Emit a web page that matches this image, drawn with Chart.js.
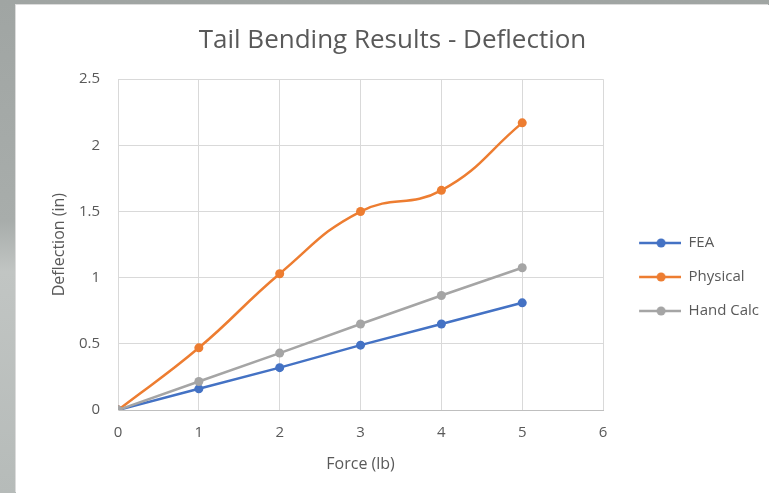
<!DOCTYPE html>
<html>
<head>
<meta charset="utf-8">
<script src="https://cdn.jsdelivr.net/npm/chart.js@4.4.1/dist/chart.umd.min.js"></script>
<style>
  html, body { margin: 0; padding: 0; }
  body {
    width: 769px; height: 493px; overflow: hidden; position: relative;
    background: linear-gradient(180deg, #a0a5a3 0%, #a8adab 45%, #c1c5c3 55%, #b6bbb9 100%);
  }
  #wrap {
    position: absolute; left: 16px; top: 5px; width: 753px; height: 488px;
    background: #ffffff; box-shadow: -1px -1px 0 #dcdcdc;
  }
</style>
</head>
<body>
<div id="wrap"><canvas id="c" width="753" height="488"></canvas></div>
<script>
// ---- data ----
const forces   = [0, 1, 2, 3, 4, 5];
const fea      = [0, 0.16, 0.32, 0.49, 0.65, 0.81];
const physical = [0, 0.47, 1.03, 1.50, 1.66, 2.17];
const handCalc = [0, 0.215, 0.43, 0.65, 0.865, 1.075];
const seriesNames = ['FEA', 'Physical', 'Hand Calc'];
const xTicks = [0, 1, 2, 3, 4, 5, 6];
const yTicks = [0, 0.5, 1, 1.5, 2, 2.5];

const colors = ['#4472C4', '#ED7D31', '#A5A5A5'];
const FONT = "'Open Sans', 'DejaVu Sans', sans-serif";
const TXT = '#595959';

function pts(ys) { return forces.map((x, i) => ({ x: x, y: ys[i] })); }

function legendIcon(color) {
  const cv = document.createElement('canvas');
  cv.width = 59; cv.height = 12;
  const g = cv.getContext('2d');
  g.strokeStyle = color; g.lineWidth = 2.5;
  g.beginPath(); g.moveTo(17, 6); g.lineTo(59, 6); g.stroke();
  g.fillStyle = color;
  g.beginPath(); g.arc(39, 6, 4.5, 0, Math.PI * 2); g.fill();
  return cv;
}
const icons = colors.map(legendIcon);

const allSeries = [fea, physical, handCalc];
const tensions = [0, 0.45, 0];
const orders = [2, 1, 0];

new Chart(document.getElementById('c'), {
  type: 'line',
  data: {
    datasets: allSeries.map((s, i) => ({
      label: seriesNames[i],
      data: pts(s),
      borderColor: colors[i],
      backgroundColor: colors[i],
      borderWidth: 2.5,
      pointRadius: 4.5,
      pointHoverRadius: 4.5,
      pointBorderWidth: 0,
      tension: tensions[i],
      order: orders[i],
      fill: false
    }))
  },
  options: {
    responsive: false,
    animation: false,
    layout: { padding: { left: 0, right: 0, top: 0, bottom: 0 } },
    plugins: {
      tooltip: { enabled: false },
      title: {
        display: true,
        text: 'Tail Bending Results - Deflection',
        color: TXT,
        font: { family: FONT, size: 26, weight: 'normal', lineHeight: 1.2 },
        padding: { top: 20, bottom: 23 }
      },
      legend: {
        display: true,
        position: 'right',
        align: 'center',
        title: { display: true, text: '', padding: { top: 38, bottom: 0 }, font: { family: FONT, size: 15 } },
        labels: {
          usePointStyle: true,
          pointStyleWidth: 59,
          padding: 19,
          color: TXT,
          font: { family: FONT, size: 15 },
          generateLabels(chart) {
            const items = Chart.defaults.plugins.legend.labels.generateLabels(chart);
            items.forEach((it) => { it.pointStyle = icons[it.datasetIndex]; it.rotation = 0; });
            items.sort((a, b) => a.datasetIndex - b.datasetIndex);
            return items;
          }
        }
      }
    },
    scales: {
      x: {
        type: 'linear',
        min: 0, max: 6,
        afterBuildTicks(scale) { scale.ticks = xTicks.map(v => ({ value: v })); },
        afterFit(scale) { scale.height = 83; },
        grid: { color: '#d9d9d9', lineWidth: 1, drawTicks: false },
        border: { color: '#bfbfbf', width: 1 },
        ticks: { color: TXT, font: { family: FONT, size: 15 }, padding: 14, callback: (v) => String(v) },
        title: {
          display: true, text: 'Force (lb)', color: TXT,
          font: { family: FONT, size: 16, lineHeight: 1.2 },
          padding: { top: 0, bottom: 19 }
        }
      },
      y: {
        type: 'linear',
        min: 0, max: 2.5,
        afterBuildTicks(scale) { scale.ticks = yTicks.map(v => ({ value: v })); },
        afterFit(scale) { scale.width = 102; },
        grid: { color: '#d9d9d9', lineWidth: 1, drawTicks: false },
        border: { color: '#d9d9d9', width: 1 },
        ticks: { color: TXT, font: { family: FONT, size: 15 }, padding: 18, callback: (v) => String(v) },
        title: {
          display: true, text: 'Deflection (in)', color: TXT,
          font: { family: FONT, size: 16, lineHeight: 1.2 },
          padding: { top: 34, bottom: 0 }
        }
      }
    }
  }
});
</script>
</body>
</html>
